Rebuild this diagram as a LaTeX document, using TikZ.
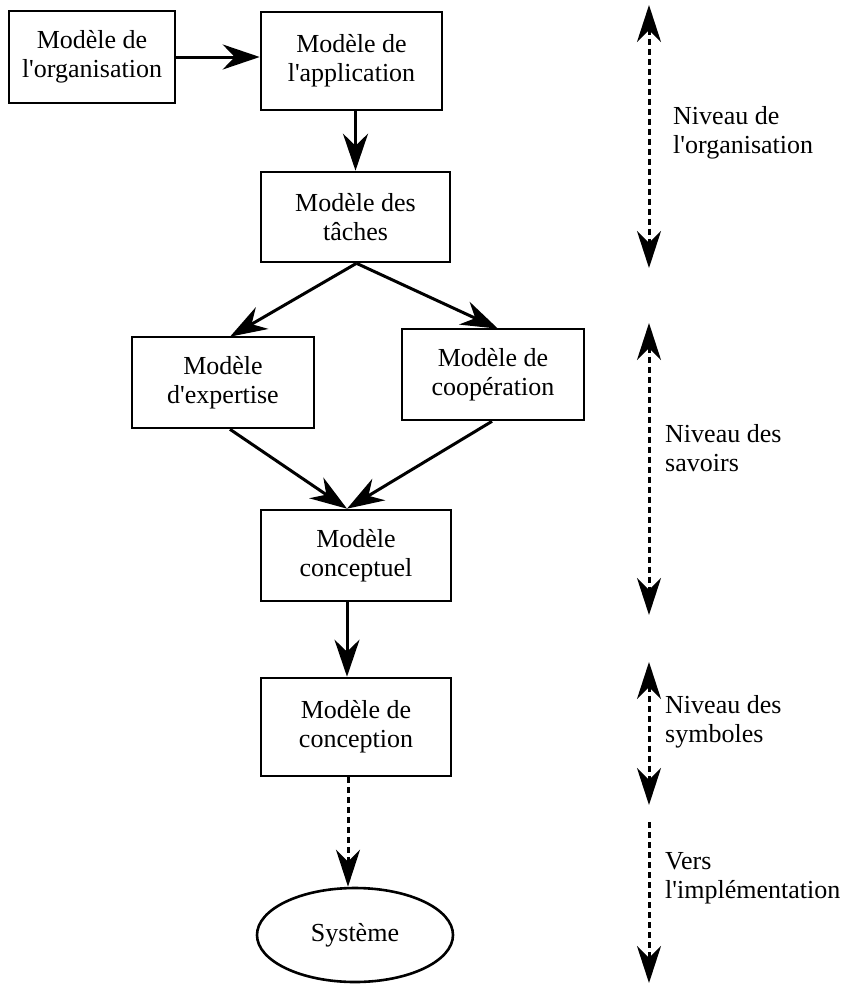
\documentclass[tikz,border=0pt]{standalone}
\usepackage{fontspec}
\setmainfont{Liberation Serif}
\usetikzlibrary{arrows.meta,shapes.geometric}
\newcommand{\qs}{\textquotesingle}
\tikzset{
  boxnode/.style={draw, line width=2.6pt, rectangle, inner sep=0pt, align=center,
    font=\fontsize{26}{29}\selectfont},
  ellnode/.style={draw, line width=2.6pt, ellipse, inner sep=0pt, align=center,
    font=\fontsize{26}{29}\selectfont},
  lvltext/.style={anchor=west, inner sep=0pt, align=left, font=\fontsize{26}{29}\selectfont},
  arr/.style={line width=3pt, -{Stealth[length=37pt, width=25pt, inset=12pt]}},
  dotarr/.style={line width=3pt, dash pattern=on 6pt off 4pt, -{Stealth[length=37pt, width=24pt, inset=12pt]}},
  dblarr/.style={line width=3pt, dash pattern=on 6pt off 4pt,
    {Stealth[length=37pt, width=24pt, inset=12pt]}-{Stealth[length=37pt, width=24pt, inset=12pt]}}
}
\begin{document}
\begin{tikzpicture}[x=1pt, y=-1pt]
\useasboundingbox (0,0) rectangle (847,985);
% boxes
\node[boxnode, minimum width=166pt, minimum height=92pt] (org) at (92,57) {Modèle de\\l\qs organisation};
\node[boxnode, minimum width=181pt, minimum height=98pt] (app) at (351.5,61) {Modèle de\\l\qs application};
\node[boxnode, minimum width=189pt, minimum height=90pt] (taches) at (355.5,217) {Modèle des\\tâches};
\node[boxnode, minimum width=182pt, minimum height=91pt] (exp) at (223,382.5) {Modèle\\d\qs expertise};
\node[boxnode, minimum width=182pt, minimum height=91pt] (coop) at (493,374.5) {Modèle de\\coopération};
\node[boxnode, minimum width=190pt, minimum height=91pt] (concl) at (356,555.5) {Modèle\\conceptuel};
\node[boxnode, minimum width=190pt, minimum height=98pt] (concn) at (356,727) {Modèle de\\conception};
\node[ellnode, minimum width=196pt, minimum height=94pt] (sys) at (355,935) {Système};
% connectors
\draw[arr] (org.east) -- (org.east -| app.west);
\draw[arr] (app.south -| taches.north) -- (taches.north);
\draw[arr] ([xshift=1pt]taches.south) -- ([xshift=7pt,yshift=-1pt]exp.north);
\draw[arr] ([xshift=1pt]taches.south) -- ([xshift=5pt,yshift=-1pt]coop.north);
\draw[arr] ([xshift=7pt]exp.south) -- ([xshift=-9pt]concl.north);
\draw[arr] ([xshift=-1pt]coop.south) -- ([xshift=-9pt]concl.north);
\draw[arr] ([xshift=-9pt]concl.south) -- ([xshift=-9pt]concn.north);
\draw[dotarr] ([xshift=-8pt]concn.south) -- ([xshift=-8pt]concn.south |- sys.north);
% level arrows
\coordinate (o1) at (649,5);
\coordinate (o2) at (649,268);
\coordinate (s1) at (649,323);
\coordinate (s2) at (649,615);
\coordinate (y1) at (649,662);
\coordinate (y2) at (649,805);
\coordinate (v1) at (649,822);
\coordinate (v2) at (649,983);
\draw[dblarr] (o1) -- (o2);
\draw[dblarr] (s1) -- (s2);
\draw[dblarr] (y1) -- (y2);
\draw[dotarr] (v1) -- (v2);
% level labels
\node[lvltext] (lo) at (673,133) {Niveau de\\l\qs organisation};
\node[lvltext] (ls) at (665,448.5) {Niveau des\\savoirs};
\node[lvltext] (ly) at (665,722) {Niveau des\\symboles};
\node[lvltext] (lv) at (665,878) {Vers\\l\qs implémentation};
\end{tikzpicture}
\end{document}
